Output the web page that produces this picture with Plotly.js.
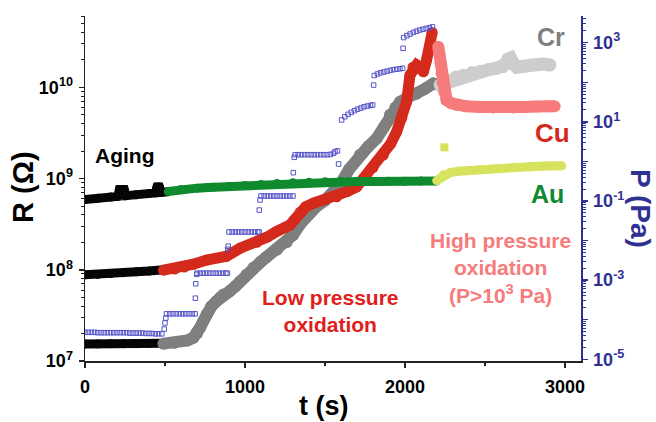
<!DOCTYPE html>
<html>
<head>
<meta charset="utf-8">
<script src="https://cdn.plot.ly/plotly-3.0.1.min.js"></script>
<style>html,body{margin:0;padding:0;background:#fff;}#chart{width:656px;height:422px;}</style>
</head>
<body>
<div id="chart"></div>
<script>
// ---- Aging (black) ----
const crAgeT = [0, 80, 160, 240, 320, 400, 490];
const crAgeR = [1.54e7, 1.54e7, 1.55e7, 1.55e7, 1.55e7, 1.56e7, 1.57e7];
const cuAgeT = [0, 80, 160, 240, 320, 400, 490];
const cuAgeR = [8.8e7, 8.9e7, 9.1e7, 9.3e7, 9.5e7, 9.7e7, 1.0e8];
const auAgeT = [0, 80, 160, 205, 215, 245, 255, 320, 400, 440, 450, 465, 475, 520];
const auAgeR = [5.9e8, 6.08e8, 6.27e8, 6.38e8, 7.6e8, 7.6e8, 6.48e8, 6.65e8, 6.86e8, 6.96e8, 8.1e8, 8.1e8, 7.05e8, 7.18e8];

// ---- Cr (grey) low pressure ----
const crT = [490, 560, 640, 677, 700, 719, 740, 760, 790, 823, 845, 865, 906, 940, 969, 1010, 1052, 1100, 1135, 1200, 1260, 1300, 1344, 1400, 1450, 1500, 1550, 1600, 1650, 1719, 1770, 1823, 1870, 1906, 1940, 1969, 2020, 2073, 2120, 2177, 2210];
const crR = [1.55e7, 1.58e7, 1.68e7, 1.80e7, 2.0e7, 2.32e7, 2.75e7, 3.25e7, 3.98e7, 4.55e7, 5.0e7, 5.37e7, 5.85e7, 6.6e7, 7.5e7, 8.9e7, 1.05e8, 1.23e8, 1.38e8, 1.66e8, 2.0e8, 2.4e8, 3.16e8, 4.17e8, 5.0e8, 5.75e8, 6.9e8, 8.9e8, 1.26e9, 1.82e9, 2.24e9, 2.75e9, 3.7e9, 5.0e9, 6.0e9, 6.9e9, 7.8e9, 8.5e9, 9.5e9, 1.1e10, 1.07e10];
// ---- Cr (light grey) high pressure ----
const crHT = [2219, 2260, 2290, 2320, 2365, 2420, 2469, 2520, 2573, 2610, 2630, 2645, 2660, 2675, 2698, 2740, 2781, 2825, 2865, 2906];
const crHR = [1.06e10, 1.12e10, 1.2e10, 1.3e10, 1.36e10, 1.45e10, 1.5e10, 1.56e10, 1.62e10, 1.68e10, 1.8e10, 2.05e10, 2.1e10, 1.85e10, 1.66e10, 1.7e10, 1.76e10, 1.78e10, 1.8e10, 1.76e10];

// ---- Cu (red) low pressure ----
const cuT = [490, 560, 620, 677, 760, 885, 969, 1073, 1140, 1198, 1250, 1281, 1310, 1344, 1380, 1427, 1500, 1573, 1640, 1698, 1740, 1800, 1865, 1910, 1948, 1980, 2010, 2031, 2050, 2073, 2095, 2115, 2135, 2146, 2160, 2170];
const cuR = [9.9e7, 1.02e8, 1.07e8, 1.15e8, 1.28e8, 1.41e8, 1.72e8, 2.0e8, 2.29e8, 2.63e8, 2.88e8, 3.09e8, 3.55e8, 4.27e8, 4.9e8, 5.37e8, 5.9e8, 6.3e8, 7.24e8, 8.1e8, 1.0e9, 1.32e9, 1.81e9, 2.4e9, 3.26e9, 4.6e9, 6.95e9, 1.36e10, 1.66e10, 1.76e10, 1.66e10, 1.48e10, 2.0e10, 2.45e10, 3.16e10, 4.0e10];
// ---- Cu (light red) high pressure ----
const cuHT = [2208, 2215, 2222, 2229, 2236, 2245, 2260, 2290, 2323, 2380, 2469, 2550, 2620, 2677, 2750, 2820, 2885, 2935];
const cuHR = [2.79e10, 2.34e10, 1.82e10, 1.43e10, 1.12e10, 8.9e9, 7.24e9, 6.7e9, 6.4e9, 6.2e9, 6.1e9, 6.0e9, 6.1e9, 6.0e9, 6.1e9, 6.15e9, 6.2e9, 6.2e9];

// ---- Au (green) low pressure ----
const auT = [520, 600, 700, 770, 800, 900, 1000, 1100, 1200, 1300, 1400, 1500, 1600, 1700, 1800, 1900, 2000, 2100, 2194];
const auR = [7.2e8, 7.6e8, 7.85e8, 8.0e8, 8.05e8, 8.2e8, 8.4e8, 8.6e8, 8.8e8, 9.0e8, 9.1e8, 9.2e8, 9.3e8, 9.3e8, 9.3e8, 9.35e8, 9.35e8, 9.4e8, 9.4e8];
// ---- Au (light green) high pressure ----
const auHT = [2198, 2215, 2240, 2281, 2330, 2400, 2470, 2573, 2680, 2781, 2880, 2979];
const auHR = [9.5e8, 1.0e9, 1.1e9, 1.16e9, 1.2e9, 1.23e9, 1.26e9, 1.29e9, 1.32e9, 1.35e9, 1.37e9, 1.38e9];
const auOutT = [2246];
const auOutR = [2.2e9];

// ---- Pressure (right axis, Pa) ----
const pT = [0,20,40,60,80,100,120,140,160,180,200,220,240,260,280,300,320,340,360,380,400,420,440,460,480,
  495,500,505,
  510,530,550,570,590,610,630,650,670,688,
  690,692,698,
  700,720,740,760,780,800,820,840,860,880,890,
  892,895,
  900,920,940,960,980,1000,1020,1040,1060,1080,1088,
  1089,1094,
  1100,1120,1140,1160,1180,1200,1220,1240,1260,1280,1300,
  1302,1308,
  1313,1333,1353,1373,1393,1413,1433,1453,1473,1493,1513,1533,1553,1563,1578,
  1585,
  1604,1624,1644,1664,1684,1704,1724,1744,1764,1784,1798,
  1804,
  1808,1828,1848,1868,1888,1908,1928,1948,1968,1985,
  1988,
  1992,2012,2032,2052,2072,2092,2112,2132,2152,2172];
const pP = [4.8e-5,4.8e-5,4.8e-5,4.8e-5,4.7e-5,4.7e-5,4.7e-5,4.7e-5,4.7e-5,4.7e-5,4.7e-5,4.7e-5,4.7e-5,4.7e-5,4.6e-5,4.6e-5,4.6e-5,4.6e-5,4.6e-5,4.5e-5,4.5e-5,4.5e-5,4.4e-5,4.4e-5,4.4e-5,
  5.8e-5,8.3e-5,1.1e-4,
  1.41e-4,1.41e-4,1.41e-4,1.41e-4,1.41e-4,1.41e-4,1.41e-4,1.41e-4,1.41e-4,1.41e-4,
  3.5e-4,8.1e-4,1.4e-3,
  1.5e-3,1.5e-3,1.5e-3,1.5e-3,1.5e-3,1.5e-3,1.5e-3,1.5e-3,1.5e-3,1.5e-3,1.5e-3,
  6.0e-3,7.2e-3,
  1.65e-2,1.65e-2,1.65e-2,1.65e-2,1.65e-2,1.65e-2,1.65e-2,1.65e-2,1.65e-2,1.65e-2,1.65e-2,
  0.059,0.106,
  0.134,0.134,0.134,0.134,0.134,0.134,0.134,0.134,0.134,0.134,0.134,
  0.52,1.27,
  1.48,1.48,1.48,1.48,1.48,1.48,1.48,1.48,1.48,1.48,1.48,1.5,1.6,1.76,1.85,
  0.86,
  11.2,13.5,15.5,17.4,19.1,20.9,22.4,24.0,25.1,26.0,26.7,
  85,
  148,162,174,182,191,200,209,214,219,226,
  724,
  1350,1510,1660,1820,1950,2090,2190,2290,2400,2510];

// ---- tick labels ----
const rTickVals = [1e7, 1e8, 1e9, 1e10];
const rTickText = ['10<sup>7</sup>', '10<sup>8</sup>', '10<sup>9</sup>', '10<sup>10</sup>'];
const pTickVals = [1e-5, 1e-4, 1e-3, 1e-2, 1e-1, 1, 10, 100, 1000];
const pTickText = ['10<sup>-5</sup>', '', '10<sup>-3</sup>', '', '10<sup>-1</sup>', '', '10<sup>1</sup>', '', '10<sup>3</sup>'];
const tTickVals = [0, 1000, 2000, 3000];

const FONT = 'Liberation Sans, Arial, Helvetica, sans-serif';
const BLUE = '#2e3192';
const C = {
  black: '#050505', grey: '#7f7f7f', lgrey: '#cdcdcd', red: '#d42a1c', lred: '#f77b7b',
  green: '#0f8a2e', lgreen: '#d6e35c', psq: '#5454c8'
};

function thick(x, y, color, w) {
  return {x: x, y: y, type: 'scatter', mode: 'lines+markers', xaxis: 'x', yaxis: 'y',
    line: {color: color, width: w}, marker: {color: color, size: w}, hoverinfo: 'skip'};
}

const traces = [
  thick(crAgeT, crAgeR, C.black, 9),
  thick(cuAgeT, cuAgeR, C.black, 9),
  thick(auAgeT, auAgeR, C.black, 9),
  thick(crT, crR, C.grey, 12),
  thick(crHT, crHR, C.lgrey, 13),
  thick(cuT, cuR, C.red, 11),
  thick(cuHT, cuHR, C.lred, 12),
  thick(auT, auR, C.green, 9),
  thick(auHT, auHR, C.lgreen, 9),
  {x: auOutT, y: auOutR, type: 'scatter', mode: 'markers', yaxis: 'y',
   marker: {color: C.lgreen, size: 8, symbol: 'square'}, hoverinfo: 'skip'},
  {x: pT, y: pP, type: 'scatter', mode: 'markers', yaxis: 'y2',
   marker: {symbol: 'square-open', size: 4.5, color: C.psq, line: {width: 1, color: C.psq}}, hoverinfo: 'skip'}
];

// plot area in pixels: left 85, right 581, top 16, bottom 361
const PL = 85, PR = 581, PT = 16, PB = 361;
const px = X => (X - PL) / (PR - PL);
const py = Y => (PB - Y) / (PB - PT);

const tickFont = {family: FONT, size: 18, color: '#000', weight: 'bold'};

const layout = {
  width: 656, height: 422,
  margin: {l: PL, r: 656 - PR, t: PT, b: 422 - PB, pad: 0},
  paper_bgcolor: '#fff', plot_bgcolor: '#fff',
  showlegend: false,
  xaxis: {
    range: [0, 3100], tickmode: 'array', tickvals: tTickVals,
    ticks: 'outside', ticklen: 5, tickwidth: 1.5, tickcolor: '#222',
    showline: true, linecolor: '#222', linewidth: 1.5,
    showgrid: false, zeroline: false, tickfont: tickFont, ticklabelstandoff: 4,
    minor: {tickmode: 'linear', tick0: 0, dtick: 500, ticks: 'outside', ticklen: 3, tickwidth: 1.5, tickcolor: '#222', showgrid: false}
  },
  xaxis2: {
    overlaying: 'x', side: 'top', anchor: 'y', range: [0, 3100],
    tickmode: 'linear', tick0: 0, dtick: 500, ticks: 'inside', ticklen: 4, tickwidth: 1.5, tickcolor: '#222',
    showline: true, linecolor: '#222', linewidth: 1.5, showticklabels: false, showgrid: false, zeroline: false
  },
  yaxis: {
    type: 'log', range: [7, 10.782], tickmode: 'array', tickvals: rTickVals, ticktext: rTickText,
    ticks: 'outside', ticklen: 5, tickwidth: 1.5, tickcolor: '#222',
    showline: true, linecolor: '#222', linewidth: 1.5,
    showgrid: false, zeroline: false, tickfont: tickFont, ticklabelstandoff: 2,
    minor: {dtick: 'D1', ticks: 'outside', ticklen: 3, tickwidth: 1, tickcolor: '#222', showgrid: false}
  },
  yaxis2: {
    type: 'log', overlaying: 'y', side: 'right', anchor: 'x', range: [-5.043, 3.675],
    tickmode: 'array', tickvals: pTickVals, ticktext: pTickText,
    ticks: 'outside', ticklen: 5, tickwidth: 1.5, tickcolor: BLUE,
    showline: true, linecolor: BLUE, linewidth: 1.5,
    showgrid: false, zeroline: false, tickfont: {family: FONT, size: 18, color: BLUE, weight: 'bold'}, ticklabelstandoff: 2,
    minor: {dtick: 'D1', ticks: 'outside', ticklen: 3, tickwidth: 1, tickcolor: BLUE, showgrid: false}
  },
  annotations: [
    {text: 'R (Ω)', xref: 'paper', yref: 'paper', x: px(23), y: py(187), textangle: -90,
     showarrow: false, xanchor: 'center', yanchor: 'middle', font: {family: FONT, size: 29, color: '#000', weight: 'bold'}},
    {text: 't (s)', xref: 'paper', yref: 'paper', x: px(324), y: py(406),
     showarrow: false, xanchor: 'center', yanchor: 'middle', font: {family: FONT, size: 27, color: '#000', weight: 'bold'}},
    {text: 'P (Pa)', xref: 'paper', yref: 'paper', x: px(641), y: py(208), textangle: 90,
     showarrow: false, xanchor: 'center', yanchor: 'middle', font: {family: FONT, size: 28, color: BLUE, weight: 'bold'}},
    {text: 'Aging', xref: 'paper', yref: 'paper', x: px(124), y: py(155),
     showarrow: false, xanchor: 'center', yanchor: 'middle', font: {family: FONT, size: 21, color: '#000', weight: 'bold'}},
    {text: 'Cr', xref: 'paper', yref: 'paper', x: px(551), y: py(37),
     showarrow: false, xanchor: 'center', yanchor: 'middle', font: {family: FONT, size: 25, color: C.grey, weight: 'bold'}},
    {text: 'Cu', xref: 'paper', yref: 'paper', x: px(552), y: py(133),
     showarrow: false, xanchor: 'center', yanchor: 'middle', font: {family: FONT, size: 26, color: C.red, weight: 'bold'}},
    {text: 'Au', xref: 'paper', yref: 'paper', x: px(547), y: py(194),
     showarrow: false, xanchor: 'center', yanchor: 'middle', font: {family: FONT, size: 25, color: C.green, weight: 'bold'}},
    {text: 'Low pressure<br>oxidation', xref: 'paper', yref: 'paper', x: px(330), y: py(311),
     showarrow: false, xanchor: 'center', yanchor: 'middle', align: 'center', font: {family: FONT, size: 21, color: '#e0201a', weight: 'bold'}},
    {text: 'High pressure<br>oxidation<br>(P&gt;10<sup>3</sup> Pa)', xref: 'paper', yref: 'paper', x: px(500), y: py(268),
     showarrow: false, xanchor: 'center', yanchor: 'middle', align: 'center', font: {family: FONT, size: 21, color: C.lred, weight: 'bold'}}
  ]
};

Plotly.newPlot('chart', traces, layout, {staticPlot: true, displayModeBar: false});
</script>
</body>
</html>
